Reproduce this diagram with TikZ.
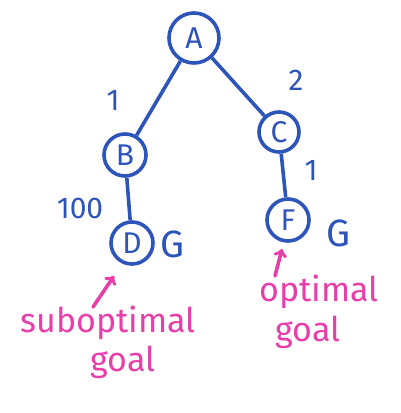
\documentclass[tikz,border=0pt]{standalone}
\usepackage{fontspec}
\setmainfont{Fira Sans}
\definecolor{pen}{RGB}{45,85,185}
\definecolor{marker}{RGB}{232,62,170}
\begin{document}
\begin{tikzpicture}[x=1pt,y=-1pt]
 \tikzset{state/.style={draw=pen, circle, line width=3.6pt, text=pen, inner sep=0pt, font=\fontsize{30}{30}\selectfont},
          edge/.style={pen, line width=3.6pt},
          cost/.style={text=pen, font=\fontsize{30}{30}\selectfont},
          pointer/.style={->, color=marker, line width=3.6pt, line cap=round},
          remark/.style={text=marker, font=\fontsize{34}{34}\selectfont}}
  \useasboundingbox (0,0) rectangle (401,413);
  \node[state, minimum size=50pt] (A) at (194,38) {A};
  \node[state, minimum size=42pt] (B) at (125,155) {B};
  \node[state, minimum size=40pt] (C) at (279,132) {C};
  \node[state, minimum size=42pt] (D) at (132,243) {D};
  \node[state, minimum size=42pt] (F) at (288,220) {F};
  \node[cost, font=\fontsize{38}{38}\selectfont] (GD) at (172,244) {G};
  \node[cost, font=\fontsize{38}{38}\selectfont] (GF) at (338,233) {G};
  \draw[edge] (A) -- (B);
  \draw[edge] (A) -- (C);
  \draw[edge] (B) -- (D);
  \draw[edge] (C) -- (F);
  \node[cost] (AB) at (113,100) {1};
  \node[cost] (AC) at (296,80) {2};
  \node[cost] (BD) at (80,208) {100};
  \node[cost] (CF) at (311,170) {1};
  % labels for the two goals
  \node[remark] (SUB) at (108,323) {suboptimal};
  \node[remark] (SUBG) at (123,362) {goal};
  \node[remark] (OPT) at (319,292) {optimal};
  \node[remark] (OPTG) at (308,332) {goal};
  \coordinate (s0) at (93,307);
  \coordinate (s1) at (114,276);
  \coordinate (o0) at (275,276);
  \coordinate (o1) at (282,249);
  \draw[pointer] (s0) -- (s1);
  \draw[pointer] (o0) -- (o1);
\end{tikzpicture}
\end{document}
